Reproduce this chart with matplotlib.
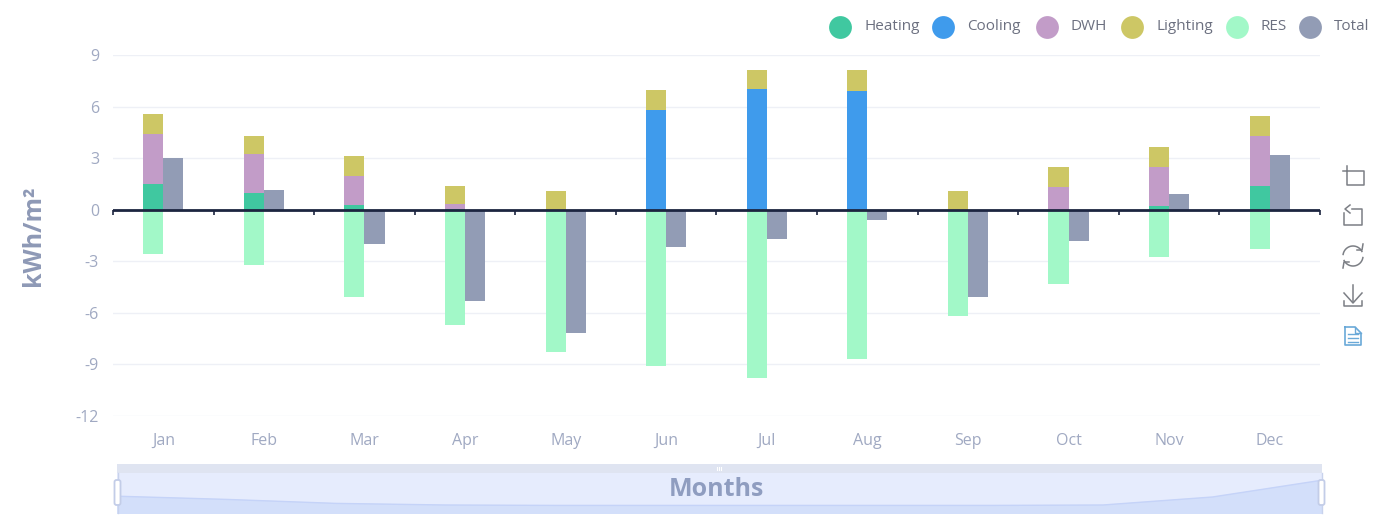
import numpy as np
import matplotlib
matplotlib.use("Agg")
import matplotlib.pyplot as plt
from matplotlib.patches import Rectangle, FancyBboxPatch

months = ["Jan", "Feb", "Mar", "Apr", "May", "Jun", "Jul", "Aug", "Sep", "Oct", "Nov", "Dec"]
heating = [1.5, 1.0, 0.3, 0.05, 0, 0, 0, 0, 0, 0, 0.2, 1.4]
cooling = [0, 0, 0, 0, 0, 5.8, 7.0, 6.9, 0, 0, 0, 0]
dwh = [2.9, 2.25, 1.65, 0.3, 0, 0, 0, 0, 0, 1.35, 2.3, 2.9]
lighting = [1.15, 1.05, 1.15, 1.05, 1.1, 1.15, 1.15, 1.2, 1.1, 1.15, 1.15, 1.15]
res = [-2.6, -3.2, -5.1, -6.7, -8.3, -9.1, -9.8, -8.7, -6.2, -4.3, -2.75, -2.3]
total = [3.0, 1.15, -2.0, -5.3, -7.2, -2.15, -1.7, -0.6, -5.1, -1.8, 0.9, 3.2]
yticks = [-12, -9, -6, -3, 0, 3, 6, 9]
# preview curve in the slider, as a share of its height
shadow = [0.42, 0.34, 0.24, 0.2, 0.19, 0.19, 0.19, 0.19, 0.19, 0.2, 0.4, 0.82]

colors = {"Heating": "#40c8a0", "Cooling": "#3f9bec", "DWH": "#c29cc8",
          "Lighting": "#cdc765", "RES": "#a2f8c8", "Total": "#929cb5"}

W, H = 1384, 520
plt.rcParams["font.family"] = ["Open Sans", "DejaVu Sans"]
plt.rcParams["axes.unicode_minus"] = False
fig = plt.figure(figsize=(W / 100, H / 100), dpi=100)


def px_axes(left, top, right, bottom, **kw):
    return fig.add_axes([left / W, 1 - bottom / H, (right - left) / W, (bottom - top) / H], **kw)


ax = px_axes(113, 55, 1320, 416)
x = np.arange(len(months))
bw = 0.2

# stacked bar on the left of each month, total on the right
bottom = np.zeros(len(months))
for name, vals in [("Heating", heating), ("Cooling", cooling), ("DWH", dwh), ("Lighting", lighting)]:
    ax.bar(x - bw / 2, vals, bw, bottom=bottom, color=colors[name], zorder=2)
    bottom = bottom + np.array(vals)
ax.bar(x - bw / 2, res, bw, color=colors["RES"], zorder=2)
ax.bar(x + bw / 2, total, bw, color=colors["Total"], zorder=2)

ax.set_xlim(-0.5, 11.5)
ax.set_ylim(-12, 9)
ax.set_yticks(yticks)
ax.set_xticks(x)
ax.set_xticklabels(months)
ax.grid(True, axis="y", color="#eef0f6", linewidth=1, zorder=0)
ax.tick_params(axis="both", length=0, labelsize=11.5, labelcolor="#a0a9c2")
ax.tick_params(axis="x", pad=12)
ax.tick_params(axis="y", pad=10)
for s in ax.spines.values():
    s.set_visible(False)
ax.axhline(0, color="#1c2540", linewidth=2, zorder=3)
ax.vlines(np.arange(-0.5, 12, 1), -0.3, 0, color="#1c2540", linewidth=1.2, zorder=3, clip_on=False)

# slider underneath
zoom = px_axes(117, 473, 1322, 513)
zoom.fill_between(np.arange(12), shadow, 0, color="#d3dffa", zorder=1)
zoom.plot(np.arange(12), shadow, color="#c5d3f8", linewidth=1, zorder=2)
zoom.set_xlim(0, 11)
zoom.set_ylim(0, 1)
zoom.set_facecolor("#e6ecfd")
zoom.set_xticks([])
zoom.set_yticks([])
for s in zoom.spines.values():
    s.set_visible(False)

# overlay in pixel coordinates for legend, toolbox and slider furniture
ov = fig.add_axes([0, 0, 1, 1], zorder=5)
ov.set_xlim(0, W)
ov.set_ylim(H, 0)
ov.axis("off")

ov.add_patch(Rectangle((117, 464), 1205, 9, facecolor="#dfe4f1", edgecolor="none"))
for hx in [117.5, 1321.5]:
    ov.plot([hx, hx], [473, 513], color="#c8d2ec", linewidth=1)
    ov.add_patch(FancyBboxPatch((hx - 3, 480), 6, 25, boxstyle="round,pad=0,rounding_size=2",
                                facecolor="white", edgecolor="#c3cde8", linewidth=1.3, zorder=6))
for gx in [717, 719, 721]:
    ov.plot([gx, gx], [467, 470], color="white", linewidth=0.8)

ov.text(716, 490, "Months", ha="center", va="center", fontsize=18, fontweight="bold", color="#8f9dc0")
ov.text(33, 236, "kWh/m²", ha="center", va="center", rotation=90, fontsize=18, fontweight="bold", color="#8e99b6")

legend_names = ["Heating", "Cooling", "DWH", "Lighting", "RES", "Total"]
legend_x = [840, 943, 1047, 1132, 1237, 1310]
for name, lx in zip(legend_names, legend_x):
    ov.scatter([lx], [27], s=270, color=colors[name], linewidths=0)
    ov.text(lx + 24, 26, name, ha="left", va="center", fontsize=11, color="#6c7080")

# toolbox icons
ic = "#7c7f85"
ov.plot([1343, 1364, 1364, 1347, 1347], [171, 171, 185, 185, 166], color=ic, linewidth=1.1)
ov.plot([1352, 1362, 1362, 1344, 1344], [209, 209, 225, 225, 213], color=ic, linewidth=1.1)
ov.plot([1350, 1345, 1350], [205, 209, 213], color=ic, linewidth=1.1)
t = np.linspace(0.15 * np.pi, 0.95 * np.pi, 30)
ov.plot(1353 + 10 * np.cos(t), 256 - 10 * np.sin(t), color=ic, linewidth=1.1)
ov.plot(1353 - 10 * np.cos(t), 256 + 10 * np.sin(t), color=ic, linewidth=1.1)
ov.plot([1357, 1362, 1363], [250, 250, 244], color=ic, linewidth=1.1)
ov.plot([1349, 1344, 1343], [262, 262, 268], color=ic, linewidth=1.1)
ov.plot([1353, 1353], [285, 302], color=ic, linewidth=1.1)
ov.plot([1344, 1353, 1362], [293, 303, 293], color=ic, linewidth=1.1)
ov.plot([1344, 1344, 1362, 1362], [301, 306, 306, 301], color=ic, linewidth=1.1)
blue = "#6aa9d8"
ov.plot([1345, 1355, 1361, 1361, 1345, 1345], [327, 327, 333, 345, 345, 327], color=blue, linewidth=1.2)
ov.plot([1355, 1355, 1361], [327, 333, 333], color=blue, linewidth=1)
for ly in [334, 338, 342]:
    ov.plot([1348, 1358], [ly, ly], color=blue, linewidth=1)

fig.savefig("out.png", dpi=100)
plt.close(fig)
